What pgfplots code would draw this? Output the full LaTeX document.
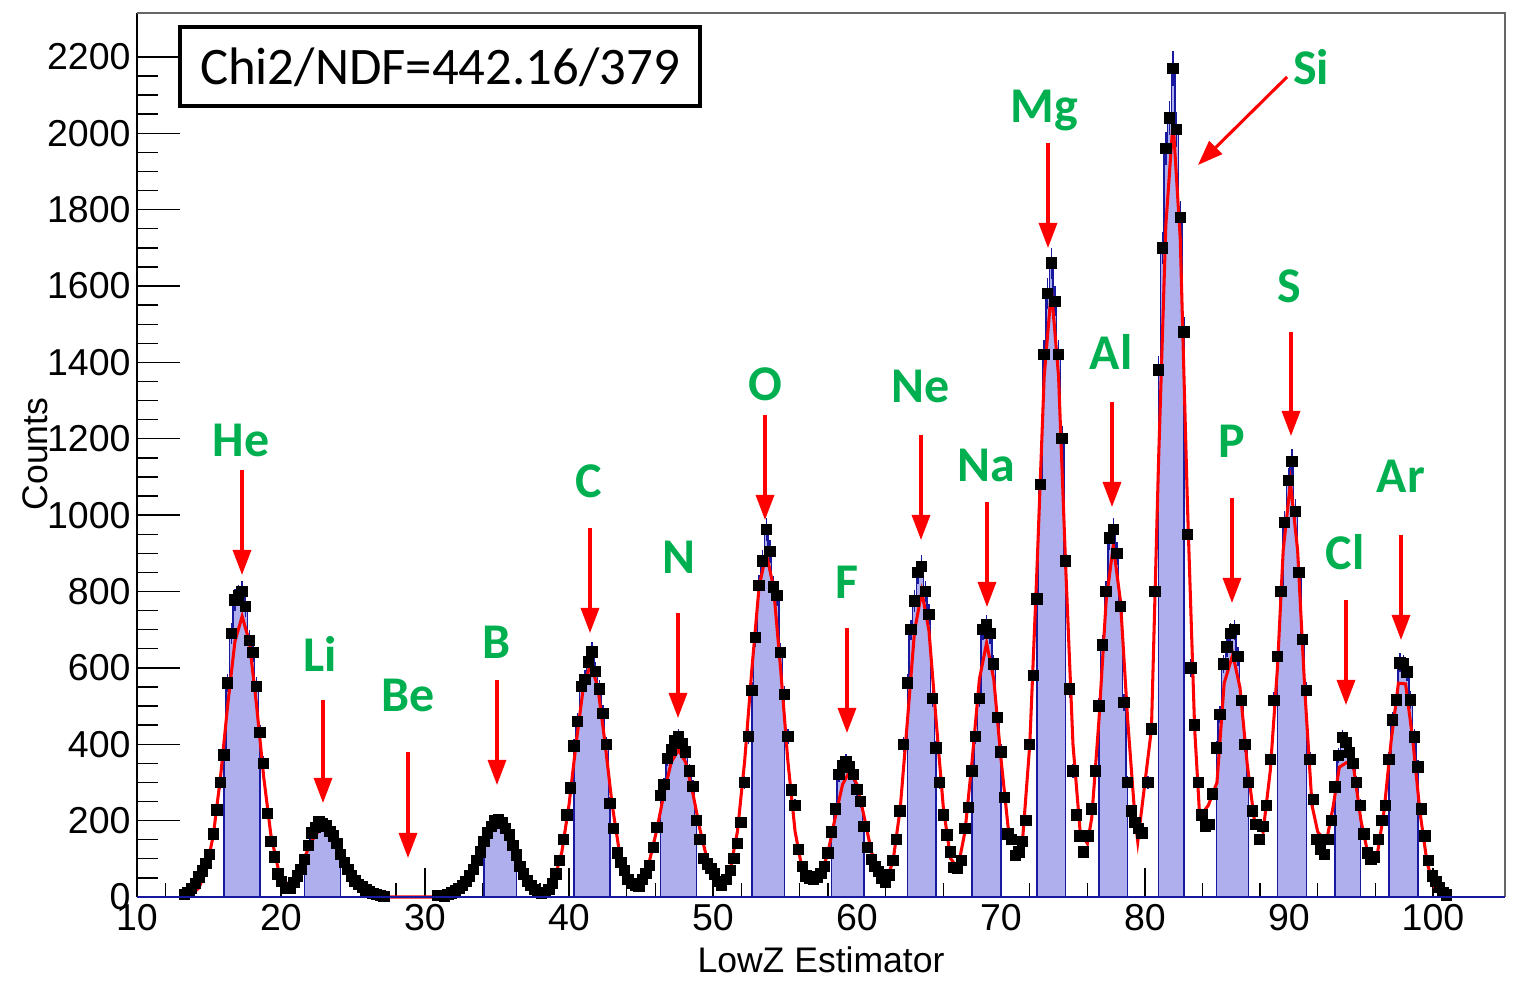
\documentclass[border=0pt]{standalone}
\usepackage{pgfplots}
\usepackage{pgfplotstable}
\pgfplotsset{compat=1.18}
\usepackage{fontspec}
\setmainfont{Liberation Sans}
\newfontfamily\calibri{Carlito}
\usetikzlibrary{arrows.meta}
\definecolor{histfill}{RGB}{175,175,238}
\definecolor{histline}{RGB}{25,25,160}
\definecolor{elgreen}{RGB}{0,176,80}
\definecolor{fitred}{RGB}{255,0,0}

\pgfplotstableread{
x y
13.30 6
13.55 12
13.80 22
14.05 35
14.30 52
14.55 68
14.80 88
15.05 112
15.30 165
15.55 228
15.80 300
16.05 372
16.30 560
16.55 690
16.80 778
17.05 790
17.30 800
17.55 760
17.80 672
18.05 640
18.30 552
18.55 430
18.80 350
19.05 218
19.30 145
19.55 105
19.80 60
20.05 40
20.40 24
20.65 22
20.90 38
21.15 55
21.40 72
21.65 98
21.90 135
22.15 168
22.40 182
22.65 196
22.90 192
23.15 186
23.40 172
23.65 160
23.90 140
24.15 112
24.40 90
24.65 72
24.90 55
25.15 42
25.40 33
25.65 26
25.90 18
26.15 13
26.40 9
26.65 6
26.90 4
27.15 2
30.90 4
31.35 3
31.60 6
31.85 10
32.10 16
32.35 22
32.60 30
32.85 40
33.10 55
33.35 72
33.60 96
33.85 118
34.10 145
34.35 168
34.60 185
34.85 200
35.10 203
35.35 194
35.60 180
35.85 162
36.10 135
36.35 110
36.60 80
36.85 60
37.10 42
37.35 30
37.60 20
37.85 12
38.10 9
38.35 12
38.60 20
38.85 36
39.10 60
39.35 95
39.60 150
39.85 215
40.10 285
40.35 395
40.60 460
40.85 552
41.10 570
41.35 615
41.60 642
41.85 590
42.10 545
42.35 480
42.60 400
42.85 245
43.10 180
43.35 115
43.60 90
43.85 70
44.10 45
44.35 35
44.60 30
44.85 28
45.10 45
45.35 62
45.60 82
45.85 130
46.10 182
46.35 265
46.60 295
46.85 362
47.10 385
47.35 410
47.60 420
47.85 402
48.10 380
48.35 330
48.60 290
48.85 200
49.10 150
49.35 100
49.60 86
49.85 75
50.10 60
50.35 40
50.60 30
50.95 45
51.20 70
51.45 100
51.70 140
51.95 195
52.20 300
52.45 420
52.70 540
52.95 680
53.20 815
53.45 880
53.70 962
53.95 905
54.20 812
54.45 790
54.70 640
54.95 530
55.20 420
55.45 280
55.70 240
55.95 125
56.20 80
56.45 55
56.75 48
57.00 45
57.25 52
57.50 62
57.75 80
58.00 115
58.25 170
58.50 230
58.75 320
59.00 345
59.25 355
59.50 340
59.75 320
60.00 282
60.25 250
60.50 185
60.75 130
61.00 98
61.25 80
61.50 66
61.75 50
62.00 38
62.25 58
62.50 95
62.75 150
63.00 225
63.25 400
63.50 560
63.75 700
64.00 775
64.25 850
64.50 865
64.75 800
65.00 740
65.25 520
65.50 390
65.75 300
66.00 215
66.25 162
66.50 118
66.75 78
67.00 75
67.25 95
67.50 180
67.75 235
68.00 330
68.25 420
68.50 520
68.75 700
69.00 712
69.25 690
69.50 610
69.75 470
70.00 380
70.25 260
70.50 165
70.75 150
71.00 108
71.25 118
71.50 145
71.75 200
72.00 400
72.25 580
72.50 780
72.75 1080
73.00 1420
73.25 1580
73.50 1660
73.75 1560
74.00 1420
74.25 1200
74.50 880
74.75 545
75.00 330
75.25 215
75.50 160
75.75 118
76.05 160
76.30 230
76.55 330
76.80 500
77.05 660
77.30 800
77.55 940
77.80 962
78.05 900
78.30 760
78.55 510
78.80 300
79.05 225
79.30 195
79.55 180
79.80 168
80.20 300
80.45 440
80.70 800
80.95 1380
81.20 1700
81.45 1960
81.70 2040
81.95 2170
82.20 2010
82.45 1780
82.70 1480
82.95 950
83.20 600
83.45 450
83.70 300
83.95 215
84.20 185
84.45 190
84.70 270
84.95 390
85.20 478
85.45 610
85.70 655
85.95 690
86.20 700
86.45 630
86.70 515
86.95 400
87.20 300
87.45 225
87.70 190
87.95 150
88.20 185
88.45 240
88.70 360
88.95 515
89.20 630
89.45 800
89.70 980
89.95 1090
90.20 1140
90.45 1010
90.70 850
90.95 675
91.20 540
91.45 360
91.70 255
91.95 150
92.20 125
92.45 112
92.70 150
92.95 200
93.20 288
93.45 370
93.70 418
93.95 405
94.20 378
94.45 350
94.70 300
94.95 240
95.20 165
95.45 115
95.70 98
95.95 105
96.20 150
96.45 200
96.70 240
96.95 360
97.20 464
97.45 516
97.70 613
97.95 610
98.20 589
98.45 516
98.70 419
98.95 340
99.20 230
99.45 160
99.70 95
99.95 55
100.20 40
100.45 25
100.70 12
100.95 5
}\markers

\pgfplotstableread{
x y
13.3 2
13.8 7
14.3 24
14.8 69
15.3 162
15.8 314
16.3 503
16.8 669
17.3 735
17.8 669
18.3 503
18.8 314
19.3 162
19.8 75
20.4 33
20.9 48
21.4 82
21.9 127
22.4 165
22.9 180
23.4 165
23.9 127
24.4 82
24.9 45
25.4 21
25.9 8
26.4 3
26.9 1
27.4 0
30.6 0
31.1 1
31.6 4
32.1 10
32.6 25
33.1 51
33.6 90
34.1 134
34.6 171
35.1 185
35.6 171
36.1 134
36.6 90
37.1 51
37.6 26
38.1 14
38.5 20
39.0 48
39.5 117
40.0 241
40.5 404
41.0 550
41.5 610
42.0 550
42.5 404
43.0 241
43.5 118
44.0 50
44.5 29
45.1 47
45.6 96
46.1 176
46.6 272
47.1 353
47.6 385
48.1 353
48.6 272
49.1 176
49.6 97
50.1 48
50.6 34
51.2 72
51.7 172
52.2 356
52.7 596
53.2 812
53.7 900
54.2 812
54.7 596
55.2 356
55.7 172
56.2 71
56.7 45
57.0 42
57.5 56
58.0 119
58.5 210
59.0 295
59.5 330
60.0 295
60.5 210
61.0 119
61.5 59
62.0 40
62.5 93
63.0 231
63.5 460
64.0 697
64.5 800
65.0 697
65.5 460
66.0 233
66.5 101
67.0 75
67.5 171
68.0 359
68.5 570
69.0 665
69.5 570
70.0 362
70.5 181
71.0 145
71.5 149
72.0 399
72.5 859
73.0 1363
73.5 1590
74.0 1363
74.5 859
75.0 400
75.5 170
76.0 140
76.3 206
76.8 461
77.3 774
77.8 920
78.3 774
78.8 463
79.3 210
79.5 145
80.45 440
80.95 1150
81.45 1760
81.95 2030
82.45 1724
82.95 1027
83.45 441
83.8 210
84.4 240
85.0 300
85.5 560
86.1 635
86.6 548
87.1 348
87.6 200
88.2 170
88.7 330
89.2 600
89.6 908
90.1 1085
90.6 908
91.1 541
91.6 240
92.0 170
92.6 145
93.05 233
93.5 340
94.0 352
94.45 350
95.0 200
95.5 110
96.1 103
96.6 224
97.1 410
97.6 560
98.1 558
98.6 410
99.1 221
99.6 88
100.1 26
100.6 5
101.0 1
}\fit

\newcommand{\histwin}[2]{\addplot[const plot mark mid, fill=histfill, draw=histline, line width=0.5pt, restrict x to domain=#1:#2] table[x=x,y=y] {\markers} \closedcycle;}

\begin{document}
\begin{tikzpicture}
\begin{axis}[
  scale only axis, width=492.48pt, height=318.24pt,
  xmin=10, xmax=105, ymin=0, ymax=2315,
  axis line style={draw=none},
  tick pos=left,
  xtick={10,20,...,100}, minor x tick num=4,
  ytick={0,200,...,2200}, minor y tick num=3,
  tick align=inside,
  xtick style={black, line width=0.5pt, /pgfplots/major tick length=10.4pt, /pgfplots/minor tick length=5.2pt},
  ytick style={black, line width=0.5pt, /pgfplots/major tick length=15.5pt, /pgfplots/minor tick length=7.7pt},
  tick label style={font=\fontsize{13.5}{16}\selectfont},
  /pgf/number format/assume math mode=true,
  /pgf/number format/1000 sep={},
  xticklabel style={yshift=0.8pt},
  yticklabel style={xshift=1.2pt},
  clip=false,
]
\histwin{16.0}{18.6}
\histwin{21.6}{24.2}
\histwin{34.0}{36.4}
\histwin{40.3}{42.9}
\histwin{46.3}{49.0}
\histwin{52.6}{55.1}
\histwin{58.2}{60.6}
\histwin{63.4}{65.6}
\histwin{68.0}{70.1}
\histwin{72.4}{74.5}
\histwin{76.75}{78.9}
\histwin{80.8}{82.9}
\histwin{84.9}{87.25}
\histwin{89.1}{91.3}
\histwin{93.1}{95.1}
\histwin{96.8}{99.0}
\addplot[only marks, mark=square*, mark size=1.85pt, mark options={fill=black, draw=black},
  error bars/.cd, y dir=both, y explicit, error bar style={histline, line width=0.5pt}, error mark=none]
  table[x=x, y=y, y error expr=sqrt(\thisrow{y})] {\markers};
\addplot[fitred, line width=1.1pt, no marks] table[x=x,y=y] {\fit};
\end{axis}
\begin{scope}[shift={(current axis.south west)}, xshift=-49.32pt, yshift=322.92pt, x=0.36pt, y=-0.36pt]
  \path (0,0) rectangle (1520,978);
  \draw[black, line width=0.7pt] (137,13) -- (137,897);
  \draw[gray!80!black, line width=0.7pt] (137,13) -- (1505,13) -- (1505,897);
  \draw[histline, line width=0.7pt] (137,897) -- (1505,897);
  \draw[line width=1.1pt, fill=white] (180,27) rectangle (700,106);
  \node[font=\calibri\fontsize{19}{22}\selectfont] at (440,67) {Chi2/NDF=442.16/379};
  \node[font=\fontsize{12.8}{15}\selectfont] at (821,960) {LowZ Estimator};
  \node[rotate=90, font=\fontsize{12.8}{15}\selectfont] at (35,454) {Counts};
  \tikzset{el/.style={anchor=base, text=elgreen, font=\calibri\bfseries\fontsize{18}{20}\selectfont},
           ar/.style={fitred, line width=1.1pt, -{Triangle[length=9pt, width=6.5pt]}}}
  \node[el] at (241,457) {He};  \draw[ar] (242,470) -- (242,575);
  \node[el] at (320,672) {Li};  \draw[ar] (323,700) -- (323,803);
  \node[el] at (408,712) {Be};  \draw[ar] (408,752) -- (408,858);
  \node[el] at (497,659) {B};   \draw[ar] (497,680) -- (497,785);
  \node[el] at (589,498) {C};   \draw[ar] (590,528) -- (590,633);
  \node[el] at (679,574) {N};   \draw[ar] (678,613) -- (678,718);
  \node[el] at (765,401) {O};   \draw[ar] (765,415) -- (765,520);
  \node[el] at (847,599) {F};   \draw[ar] (847,628) -- (847,733);
  \node[el] at (921,403) {Ne};  \draw[ar] (921,435) -- (921,540);
  \node[el] at (986,482) {Na};  \draw[ar] (987,502) -- (987,607);
  \node[el] at (1044,123) {Mg}; \draw[ar] (1048,143) -- (1048,248);
  \node[el] at (1111,370) {Al}; \draw[ar] (1112,402) -- (1112,507);
  \node[el] at (1311,85) {Si};  \draw[ar] (1287,77) -- (1198,165);
  \node[el] at (1232,458) {P};  \draw[ar] (1232,498) -- (1232,603);
  \node[el] at (1289,303) {S};  \draw[ar] (1291,332) -- (1291,436);
  \node[el] at (1345,570) {Cl}; \draw[ar] (1346,600) -- (1346,705);
  \node[el] at (1401,493) {Ar}; \draw[ar] (1401,535) -- (1401,640);
\end{scope}
\end{tikzpicture}
\end{document}
